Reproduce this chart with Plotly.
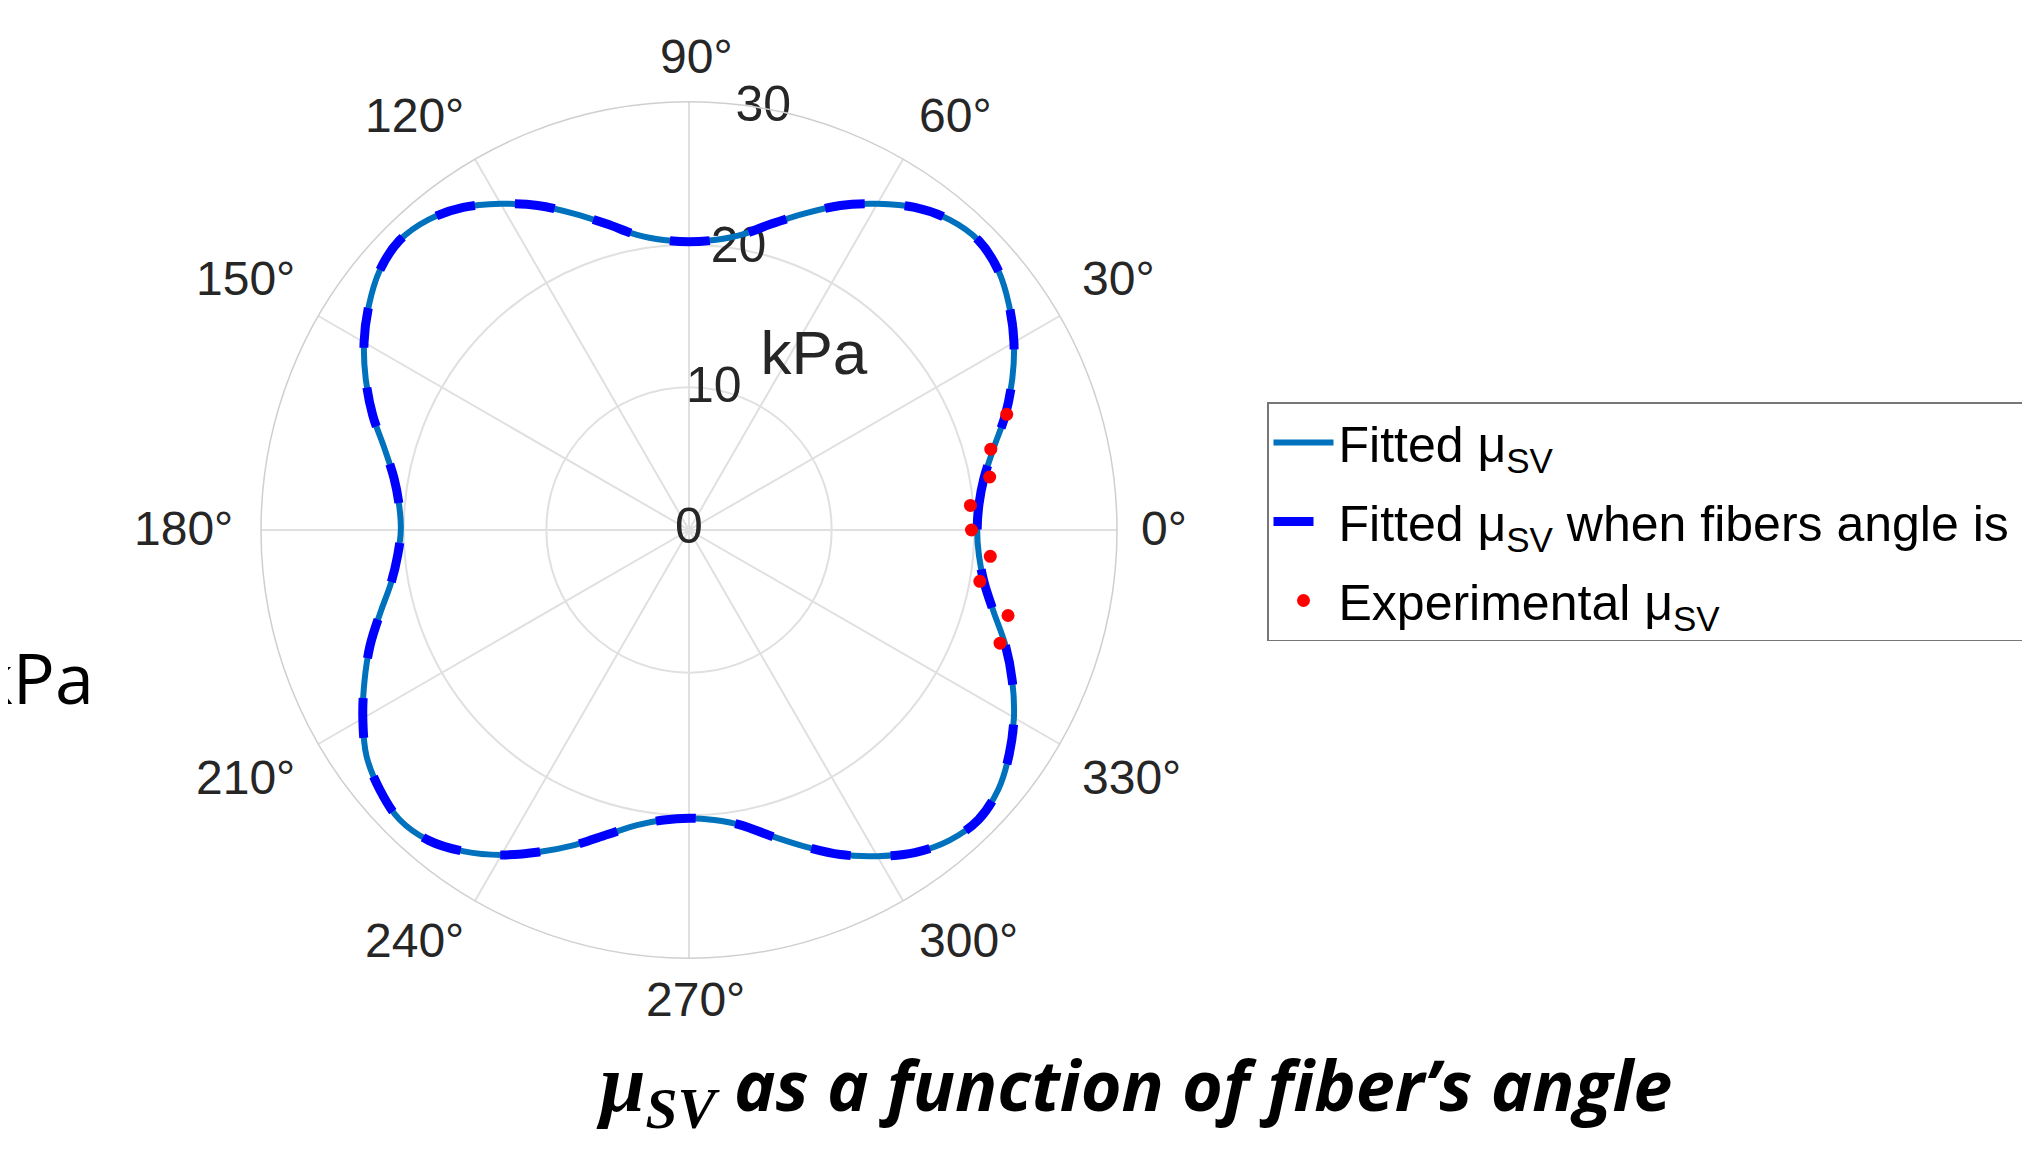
import math
import plotly.graph_objects as go

# ---------------- data ----------------
theta_deg = [0, 5, 10, 15, 20, 25, 30, 35, 40, 45, 50, 55, 60, 65, 70, 75, 80, 85,
             90, 95, 100, 105, 110, 115, 120, 125, 130, 135, 140, 145, 150, 155, 160, 165, 170, 175,
             180, 185, 190, 195, 200, 205, 210, 215, 220, 225, 230, 235, 240, 245, 250, 255, 260, 265,
             270, 275, 280, 285, 290, 295, 300, 305, 310, 315, 320, 325, 330, 335, 340, 345, 350, 355,
             360]
fitted_kpa = [20.2, 20.4, 21.0, 22.1, 23.6, 25.0, 26.3, 27.4, 28.3, 28.7, 28.4, 27.6, 26.4, 25.1, 23.6, 22.2, 21.0, 20.4,
              20.2, 20.4, 21.0, 22.2, 23.6, 25.1, 26.4, 27.6, 28.4, 28.7, 28.3, 27.4, 26.3, 25.0, 23.6, 22.1, 21.0, 20.4,
              20.2, 20.5, 21.2, 22.4, 23.8, 25.1, 26.4, 27.6, 28.3, 28.7, 28.4, 27.5, 26.3, 24.9, 23.5, 22.1, 21.0, 20.4,
              20.2, 20.4, 21.0, 22.2, 23.6, 25.1, 26.4, 27.6, 28.4, 28.7, 28.3, 27.4, 26.3, 25.0, 23.6, 22.1, 21.0, 20.4,
              20.2]
exp_theta_deg = [-20, -15, -10, -5, 0, 5, 10, 15, 20]
exp_kpa = [23.2, 23.15, 20.7, 21.2, 19.8, 19.8, 21.4, 21.9, 23.7]

angular_ticks = [0, 30, 60, 90, 120, 150, 180, 210, 240, 270, 300, 330]
angular_tick_text = ["0°", "30°", "60°", "90°", "120°", "150°", "180°", "210°", "240°", "270°", "300°", "330°"]
radial_ticks = [0, 10, 20, 30]
radial_tick_text = ["0", "10", "20", "30"]

# ---------------- figure ----------------
W, H = 2030, 1150
R = 428                      # polar radius in px
DOM_CX, DOM_CY = 681, 522    # domain centre that renders the pole at (688, 527)
POLE_X, POLE_Y = 688, 527
LABEL_GAP = 16               # gap between outer ring and angular labels (px)
LEFT_EXTRA = 18              # right-aligned labels sit a bit farther out
LABEL_DY = -7                # small upward nudge of all angular labels

fig = go.Figure()

# radial tick labels (placed through the polar scales)
fig.add_trace(go.Scatterpolar(
    r=radial_ticks, theta=[80] * len(radial_ticks), mode="text",
    text=radial_tick_text, textposition="middle center",
    textfont=dict(family="Liberation Sans", size=50, color="#262626"),
    cliponaxis=False, showlegend=False, hoverinfo="skip"))
fig.add_trace(go.Scatterpolar(
    r=[14.9], theta=[54], mode="text", text=["kPa"], textposition="middle center",
    textfont=dict(family="Liberation Sans", size=62, color="#262626"),
    cliponaxis=False, showlegend=False, hoverinfo="skip"))

fig.add_trace(go.Scatterpolar(
    r=fitted_kpa, theta=theta_deg, mode="lines",
    line=dict(color="#0072BD", width=6, shape="spline"),
    legendgroup="a", name="Fitted μ<sub>SV</sub>"))
fig.add_trace(go.Scatterpolar(
    r=fitted_kpa, theta=theta_deg, mode="lines",
    line=dict(color="#0000FF", width=9, dash="40px,40px", shape="spline"),
    legendgroup="b", name="Fitted μ<sub>SV</sub> when fibers angle is 0°"))
fig.add_trace(go.Scatterpolar(
    r=exp_kpa, theta=exp_theta_deg, mode="markers",
    marker=dict(color="#FF0000", size=13),
    cliponaxis=False, legendgroup="c",
    name="Experimental μ<sub>SV</sub>"))

fig.update_layout(
    width=W, height=H,
    margin=dict(l=0, r=0, t=0, b=0, autoexpand=False),
    paper_bgcolor="white", plot_bgcolor="white",
    polar=dict(
        domain=dict(x=[(DOM_CX - R) / W, (DOM_CX + R) / W],
                    y=[(H - DOM_CY - R) / H, (H - DOM_CY + R) / H]),
        bgcolor="white",
        angularaxis=dict(
            direction="counterclockwise", rotation=0,
            tickmode="array", tickvals=angular_ticks,
            showticklabels=False, ticks="",
            showline=True, linecolor="#cfcfcf", linewidth=1.5,
            showgrid=True, gridcolor="#e0e0e0", gridwidth=1.5),
        radialaxis=dict(
            range=[0, 30], tickmode="array", tickvals=radial_ticks,
            showticklabels=False, ticks="", showline=False,
            showgrid=True, gridcolor="#e0e0e0", gridwidth=1.5, angle=80),
    ),
    legend=dict(
        x=1259 / W, y=1 - 394 / H, xanchor="left", yanchor="top",
        bgcolor="white", bordercolor="#777777", borderwidth=1.5,
        font=dict(family="Liberation Sans", size=50, color="black"),
        itemwidth=60, tracegroupgap=11, traceorder="grouped"),
    showlegend=True,
)

# angular tick labels, anchored just outside the outer ring (MATLAB style)
for a, txt in zip(angular_ticks, angular_tick_text):
    c, s = math.cos(math.radians(a)), math.sin(math.radians(a))
    gap = LABEL_GAP + (LEFT_EXTRA if c < -0.1 else 0)
    px = POLE_X + (R + gap) * c
    py = POLE_Y - (R + LABEL_GAP) * s + LABEL_DY
    xa = "left" if c > 0.1 else ("right" if c < -0.1 else "center")
    ya = "bottom" if s > 0.1 else ("top" if s < -0.1 else "middle")
    fig.add_annotation(
        text=txt, xref="paper", yref="paper", x=px / W, y=1 - py / H,
        xanchor=xa, yanchor=ya, showarrow=False, borderpad=0,
        font=dict(family="Liberation Sans", size=48, color="#262626"))

fig.add_annotation(
    text="kPa", xref="paper", yref="paper", x=88 / W, y=1 - 669 / H,
    xanchor="right", yanchor="middle", showarrow=False,
    font=dict(family="Open Sans", size=70, color="black"))

fig.add_annotation(
    text="<span style=\"font-family:'Liberation Serif';font-size:82px\">μ<sub>SV</sub></span> as a function of fiber’s angle",
    xref="paper", yref="paper", x=1126 / W, y=1 - 1080 / H,
    xanchor="center", yanchor="middle", showarrow=False,
    font=dict(family="Open Sans", size=70, color="black", weight="bold", style="italic"))

fig.write_html("out.html")
